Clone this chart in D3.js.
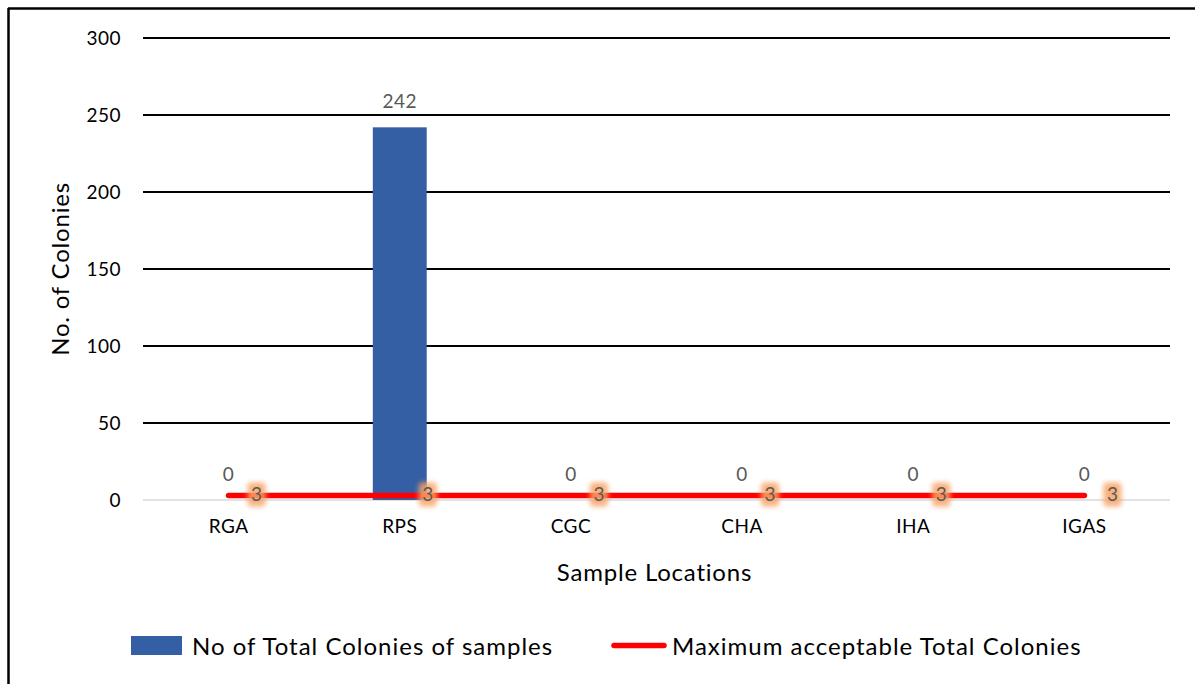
<!DOCTYPE html>
<html>
<head>
<meta charset="utf-8">
<script src="https://cdn.jsdelivr.net/npm/d3@7"></script>
<style>
  body { margin: 0; background: #fff; }
  svg { display: block; font-family: Lato, "Open Sans", sans-serif; }
</style>
</head>
<body>
<svg id="chart" width="1195" height="684"></svg>
<script>
// Sample locations and counts
const categories = ["RGA", "RPS", "CGC", "CHA", "IHA", "IGAS"];
const totalColonies = [0, 242, 0, 0, 0, 0];
const maxAcceptable = [3, 3, 3, 3, 3, 3];
const yTicks = [0, 50, 100, 150, 200, 250, 300];
const seriesNames = ["No of Total Colonies of samples", "Maximum acceptable Total Colonies"];

const svg = d3.select("#chart");
const W = 1195, H = 684;
const plot = { left: 143, right: 1170, top: 38, bottom: 500 };
const smallFont = 19, bigFont = 24;

// frame (top and left edges)
svg.append("line").attr("x1", 8).attr("x2", W).attr("y1", 8.5).attr("y2", 8.5)
  .attr("stroke", "#000").attr("stroke-width", 2.5);
svg.append("line").attr("x1", 8.5).attr("x2", 8.5).attr("y1", 8).attr("y2", H)
  .attr("stroke", "#000").attr("stroke-width", 2.5);

const x = d3.scaleBand().domain(categories).range([plot.left, plot.right]).paddingInner(0.685).paddingOuter(0.3425);
const xc = d => x(d) + x.bandwidth() / 2;
const y = d3.scaleLinear().domain([0, 300]).range([plot.bottom, plot.top]);

// gridlines
svg.append("g").selectAll("line").data(yTicks.filter(t => t > 0)).join("line")
  .attr("x1", plot.left).attr("x2", plot.right)
  .attr("y1", d => y(d)).attr("y2", d => y(d))
  .attr("stroke", "#000").attr("stroke-width", 2);
// baseline
svg.append("line").attr("x1", plot.left).attr("x2", plot.right)
  .attr("y1", y(0)).attr("y2", y(0)).attr("stroke", "#d9d9d9").attr("stroke-width", 1.5);

// y axis labels
const yAxis = d3.axisLeft(y).tickValues(yTicks).tickSize(0).tickPadding(22);
const gy = svg.append("g").attr("transform", `translate(${plot.left},0)`).call(yAxis);
gy.select(".domain").remove();
gy.selectAll("text").attr("font-size", smallFont).attr("letter-spacing", 0.5)
  .attr("fill", "#000").attr("font-family", "Lato, sans-serif");

// x axis labels
const xAxis = d3.axisBottom(x).tickSize(0).tickPadding(20);
const gx = svg.append("g").attr("transform", `translate(0,${plot.bottom})`).call(xAxis);
gx.select(".domain").remove();
gx.selectAll("text").attr("font-size", smallFont).attr("letter-spacing", 0.5)
  .attr("fill", "#000").attr("font-family", "Lato, sans-serif");

// bars
svg.append("g").selectAll("rect").data(categories.map((c, i) => ({ c, v: totalColonies[i] }))).join("rect")
  .attr("x", d => x(d.c)).attr("width", x.bandwidth())
  .attr("y", d => y(d.v)).attr("height", d => y(0) - y(d.v))
  .attr("fill", "#355fa4");

// bar value labels
svg.append("g").selectAll("text").data(categories.map((c, i) => ({ c, v: totalColonies[i] }))).join("text")
  .attr("x", d => xc(d.c)).attr("y", d => y(d.v) - 19)
  .attr("text-anchor", "middle").attr("font-size", smallFont).attr("letter-spacing", 0.5).attr("fill", "#595959")
  .text(d => d.v);

// glow behind line labels
const defs = svg.append("defs");
defs.append("filter").attr("id", "glow").attr("x", "-60%").attr("y", "-60%").attr("width", "220%").attr("height", "220%")
  .append("feGaussianBlur").attr("stdDeviation", 2.4);

// threshold line
const line = d3.line().x((d, i) => xc(categories[i])).y(d => y(d));
svg.append("path").datum(maxAcceptable).attr("d", line)
  .attr("fill", "none").attr("stroke", "#ff0000").attr("stroke-width", 5.5).attr("stroke-linecap", "round");

// threshold labels
const lab = svg.append("g").selectAll("g").data(maxAcceptable.map((v, i) => ({ c: categories[i], v }))).join("g")
  .attr("transform", d => `translate(${xc(d.c) + 28},${y(d.v) - 1})`);
lab.append("rect").attr("x", -9).attr("y", -12).attr("width", 18).attr("height", 24).attr("rx", 4)
  .attr("fill", "#f8a468").attr("opacity", 0.85).attr("filter", "url(#glow)");
lab.append("text").attr("text-anchor", "middle").attr("dy", "0.36em")
  .attr("font-size", smallFont).attr("fill", "#595959").text(d => d.v);

// axis titles
svg.append("text").attr("x", (plot.left + plot.right) / 2 - 2).attr("y", 581)
  .attr("text-anchor", "middle").attr("font-size", bigFont).attr("letter-spacing", 0.8)
  .attr("fill", "#000").text("Sample Locations");
svg.append("text").attr("transform", `translate(69,${(plot.top + plot.bottom) / 2}) rotate(-90)`)
  .attr("text-anchor", "middle").attr("font-size", bigFont).attr("letter-spacing", 0.8)
  .attr("fill", "#000").text("No. of Colonies");

// legend
const leg = svg.append("g").attr("font-size", bigFont).attr("letter-spacing", 1);
leg.append("rect").attr("x", 131).attr("y", 636).attr("width", 51).attr("height", 19).attr("fill", "#355fa4");
leg.append("text").attr("x", 192).attr("y", 646).attr("dy", "0.36em").text(seriesNames[0]);
leg.append("line").attr("x1", 614).attr("x2", 664).attr("y1", 645.5).attr("y2", 645.5)
  .attr("stroke", "#ff0000").attr("stroke-width", 5.5).attr("stroke-linecap", "round");
leg.append("text").attr("x", 672).attr("y", 646).attr("dy", "0.36em").text(seriesNames[1]);
</script>
</body>
</html>
